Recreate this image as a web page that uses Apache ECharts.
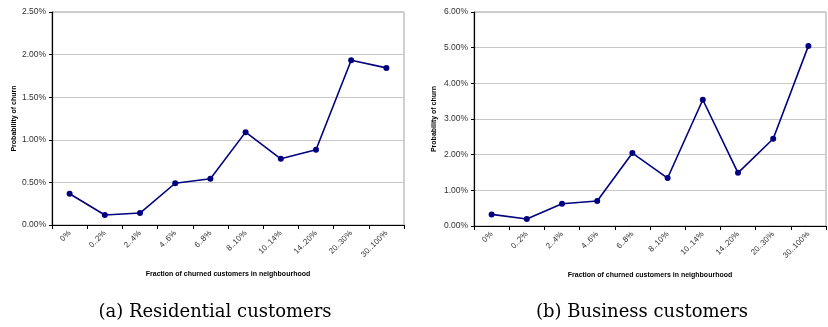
<!DOCTYPE html>
<html>
<head>
<meta charset="utf-8">
<script src="https://cdn.jsdelivr.net/npm/echarts@6/dist/echarts.min.js"></script>
<style>
  html, body { margin: 0; padding: 0; background: #fff; }
  #chart { width: 828px; height: 327px; }
</style>
</head>
<body>
<div id="chart"></div>
<script>
// Neighbourhood churn bands (x categories shared by both panels)
const categories = ['0%', '0..2%', '2..4%', '4..6%', '6..8%', '8..10%', '10..14%', '14..20%', '20..30%', '30..100%'];

// Probability of churn, in percent
const residentialChurn = [0.367, 0.117, 0.14, 0.49, 0.543, 1.09, 0.777, 0.883, 1.934, 1.844];
const businessChurn = [0.325, 0.196, 0.625, 0.70, 2.045, 1.345, 3.54, 1.49, 2.445, 5.05];

const residentialTicks = { max: 2.5, interval: 0.5 };
const businessTicks = { max: 6, interval: 1 };

const captions = ['(a) Residential customers', '(b) Business customers'];
const xTitle = 'Fraction of churned customers in neighbourhood';
const yTitle = 'Probability of churn';

const lineColor = '#000080';
const sans = 'Liberation Sans, Arial, sans-serif';
const serif = 'DejaVu Serif, serif';

function xAxisFor(gridIndex) {
  return {
    type: 'category', gridIndex, data: categories,
    boundaryGap: true,
    name: xTitle, nameLocation: 'middle', nameGap: 46,
    nameTextStyle: { fontFamily: sans, fontSize: 7, fontWeight: 'bold', color: '#000' },
    axisLine: { lineStyle: { color: '#000', width: 1.2 } },
    axisTick: { show: true, length: 4, lineStyle: { color: '#000' } },
    axisLabel: { rotate: 45, fontFamily: sans, fontSize: 8, color: '#333', margin: 7, interval: 0 },
    splitLine: { show: false }
  };
}

function yAxisFor(gridIndex, ticks, gap) {
  return {
    type: 'value', gridIndex, min: 0, max: ticks.max, interval: ticks.interval,
    name: yTitle, nameLocation: 'middle', nameGap: gap,
    nameTextStyle: { fontFamily: sans, fontSize: 7, fontWeight: 'bold', color: '#000' },
    axisLine: { show: true, lineStyle: { color: '#000', width: 1.2 } },
    axisTick: { show: true, length: 3, lineStyle: { color: '#000' } },
    axisLabel: { fontFamily: sans, fontSize: 8.5, color: '#333', margin: 6,
      formatter: v => v.toFixed(2) + '%' },
    splitLine: { show: true, lineStyle: { color: '#c8c8c8', width: 1 } }
  };
}

function seriesFor(index, values) {
  return {
    type: 'line', xAxisIndex: index, yAxisIndex: index, data: values,
    symbol: 'circle', symbolSize: 6,
    lineStyle: { color: lineColor, width: 1.6 },
    itemStyle: { color: lineColor },
    animation: false
  };
}

const chart = echarts.init(document.getElementById('chart'), null, { renderer: 'canvas' });
chart.setOption({
  backgroundColor: '#fff',
  animation: false,
  title: [
    { text: captions[0], left: 210, top: 298, textAlign: 'center',
      textStyle: { fontFamily: serif, fontSize: 18, fontWeight: 'normal', color: '#000' } },
    { text: captions[1], left: 637, top: 298, textAlign: 'center',
      textStyle: { fontFamily: serif, fontSize: 18, fontWeight: 'normal', color: '#000' } }
  ],
  grid: [
    { left: 52, right: 424, top: 12, bottom: 102, show: true, borderColor: '#a0a0a0', borderWidth: 1 },
    { left: 474, right: 2, top: 12, bottom: 101, show: true, borderColor: '#a0a0a0', borderWidth: 1 }
  ],
  xAxis: [xAxisFor(0), xAxisFor(1)],
  yAxis: [yAxisFor(0, residentialTicks, 34), yAxisFor(1, businessTicks, 36)],
  series: [seriesFor(0, residentialChurn), seriesFor(1, businessChurn)]
});
</script>
</body>
</html>
